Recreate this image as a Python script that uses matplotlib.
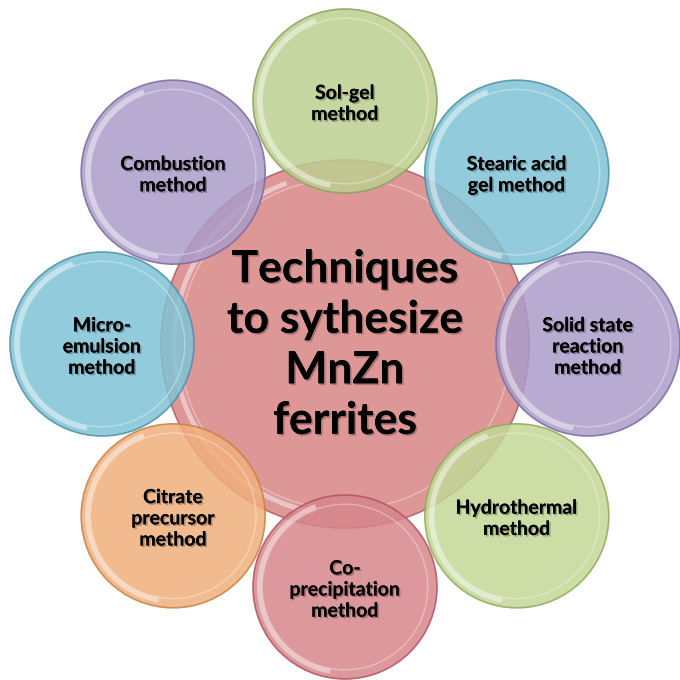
"""Radial diagram: techniques to synthesize MnZn ferrites."""

import numpy as np
import matplotlib

matplotlib.use("Agg")
import matplotlib.pyplot as plt  # noqa: E402
import matplotlib.patheffects as pe  # noqa: E402
from matplotlib.patches import Circle, Arc  # noqa: E402

plt.rcParams["font.family"] = ["Lato", "DejaVu Sans"]

CENTER_LABEL = "Techniques\nto sythesize\nMnZn\nferrites"
CENTER_COLOR = ("#d78585", "#b05a62")

labels = [
    "Sol-gel\nmethod",
    "Stearic acid\ngel method",
    "Solid state\nreaction\nmethod",
    "Hydrothermal\nmethod",
    "Co-\nprecipitation\nmethod",
    "Citrate\nprecursor\nmethod",
    "Micro-\nemulsion\nmethod",
    "Combustion\nmethod",
]
# clockwise from the top, degrees
angles = [90, 45, 0, -45, -90, -135, 180, 135]
fills = ["#bccf8f", "#7fc3d6", "#ab9cc9", "#c3d897", "#d6868b", "#f0b07c", "#7fc3d6", "#ab9cc9"]
edges = ["#8da05c", "#4c8fa5", "#7a6a9c", "#8fa85a", "#b0545c", "#c98040", "#4c8fa5", "#7a6a9c"]

CX, CY = 345, 344
RING = 243
R_BIG = 184
R_SMALL = 92

shadow = [pe.withSimplePatchShadow(offset=(1.2, -1.2), shadow_rgbFace="#000000", alpha=0.25), pe.Normal()]


def bubble(ax, x, y, r, fill, edge, z):
    ax.add_patch(Circle((x, y), r, facecolor=fill, edgecolor=edge, linewidth=1.2, alpha=0.85, zorder=z))
    # glossy inner rim
    ax.add_patch(Circle((x, y), r * 0.9, facecolor="none", edgecolor="white", linewidth=1.0, alpha=0.35, zorder=z))
    ax.add_patch(Arc((x, y), 2 * r * 0.93, 2 * r * 0.93, angle=0, theta1=100, theta2=250,
                     color="white", linewidth=3.5, alpha=0.45, zorder=z))


fig = plt.figure(figsize=(6.8, 6.8), dpi=100)
ax = fig.add_axes([0, 0, 1, 1])
ax.set_xlim(0, 680)
ax.set_ylim(680, 0)
ax.set_aspect("equal")
ax.axis("off")

bubble(ax, CX, CY, R_BIG, CENTER_COLOR[0], CENTER_COLOR[1], 1)
for lab, ang, fc, ec in zip(labels, angles, fills, edges):
    x = CX + RING * np.cos(np.radians(ang))
    y = CY - RING * np.sin(np.radians(ang))
    bubble(ax, x, y, R_SMALL, fc, ec, 2)
    ax.text(x, y + 3, lab, ha="center", va="center", fontsize=14, fontweight="bold",
            color="black", linespacing=1.3, zorder=5, path_effects=shadow)

ax.text(CX, CY + 1, CENTER_LABEL, ha="center", va="center", fontsize=32, fontweight="bold",
        color="black", linespacing=1.32, zorder=6, path_effects=shadow)

fig.savefig("out.png", dpi=100, facecolor="white")
